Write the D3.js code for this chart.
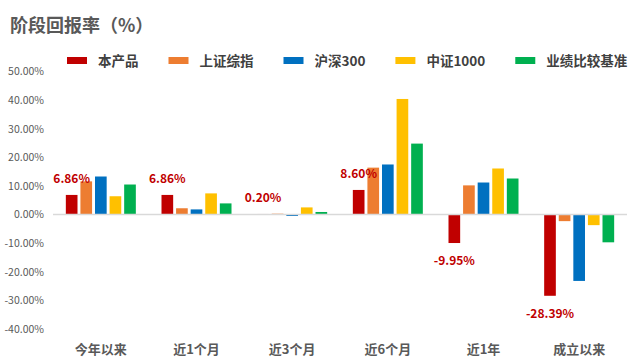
<!DOCTYPE html>
<html><head><meta charset="utf-8">
<script src="https://cdn.jsdelivr.net/npm/d3@7"></script>
<style>body{margin:0;background:#fff}svg{display:block}text{font-family:"Noto Sans CJK SC","Noto Sans",sans-serif}</style>
</head><body>
<svg id="c" width="641" height="361"></svg>
<script>
const categories = ["今年以来","近1个月","近3个月","近6个月","近1年","成立以来"];
const seriesNames = ["本产品","上证综指","沪深300","中证1000","业绩比较基准"];
const seriesColors = ["#C00000","#ED7D31","#0070C0","#FFC000","#00B050"];
const product = [6.86, 6.86, 0.20, 8.60, -9.95, -28.39];
const sse = [11.6, 2.2, 0.3, 16.4, 10.2, -2.3];
const csi300 = [13.3, 1.8, -0.5, 17.5, 11.2, -23.2];
const csi1000 = [6.4, 7.4, 2.5, 40.4, 16.1, -3.7];
const benchmark = [10.5, 3.9, 0.9, 24.8, 12.6, -9.7];
const yTicks = [50, 40, 30, 20, 10, 0, -10, -20, -30, -40];
const allSeries = [product, sse, csi300, csi1000, benchmark];
const pct = v => v.toFixed(2) + "%";

const svg = d3.select("#c");
svg.append("text").attr("x", 10).attr("y", 32).attr("font-size", 18).attr("font-weight", "bold")
  .attr("fill", "#595959").text("阶段回报率（%）");

// legend
const lg = svg.append("g");
let lx = 67;
seriesNames.forEach((n, i) => {
  lg.append("rect").attr("x", lx).attr("y", 57).attr("width", 20).attr("height", 7).attr("fill", seriesColors[i]);
  const t = lg.append("text").attr("x", lx + 31).attr("y", 66).attr("font-size", 13.5).attr("font-weight", "bold")
    .attr("fill", "#404040").text(n);
  lx = lx + 31 + t.node().getComputedTextLength() + 30;
});

const y = d3.scaleLinear().domain([-40, 50]).range([329, 71.5]);
const x0 = d3.scaleBand().domain(categories).range([53, 627]);
const x1 = d3.scaleBand().domain(seriesNames).range([0, x0.bandwidth()]).paddingInner(0.2).paddingOuter(0.88);

// y axis labels
const yAxis = d3.axisLeft(y).tickValues(yTicks).tickFormat(pct).tickSize(0).tickPadding(0);
const ya = svg.append("g").attr("transform", "translate(44,0)").call(yAxis);
ya.select(".domain").remove();
ya.selectAll("text").attr("font-size", 10.5).attr("fill", "#595959").attr("font-family", '"Noto Sans","Noto Sans CJK SC",sans-serif');

// bars
categories.forEach((c, ci) => {
  const g = svg.append("g").attr("transform", `translate(${x0(c)},0)`);
  seriesNames.forEach((s, si) => {
    const v = allSeries[si][ci];
    g.append("rect").attr("x", x1(s)).attr("width", x1.bandwidth())
      .attr("y", y(Math.max(0, v))).attr("height", Math.abs(y(v) - y(0))).attr("fill", seriesColors[si]);
  });
  const v = product[ci];
  g.append("text").attr("x", x1(seriesNames[0]) + x1.bandwidth() / 2)
    .attr("y", v >= 0 ? y(v) - 12 : y(v) + 22)
    .attr("text-anchor", "middle").attr("font-size", 12).attr("font-weight", "bold")
    .attr("fill", "#C00000").text(pct(v));
});

// zero line
svg.append("line").attr("x1", 53).attr("x2", 627).attr("y1", y(0)).attr("y2", y(0))
  .attr("stroke", "#D9D9D9").attr("stroke-width", 1.5);

// x axis labels
const xa = svg.append("g").attr("transform", "translate(0,354)")
  .call(d3.axisBottom(x0).tickSize(0).tickPadding(0));
xa.select(".domain").remove();
xa.selectAll("text").attr("dy", 0).attr("font-size", 13).attr("font-weight", "bold").attr("fill", "#595959")
  .attr("font-family", '"Noto Sans CJK SC",sans-serif');
</script>
</body></html>
